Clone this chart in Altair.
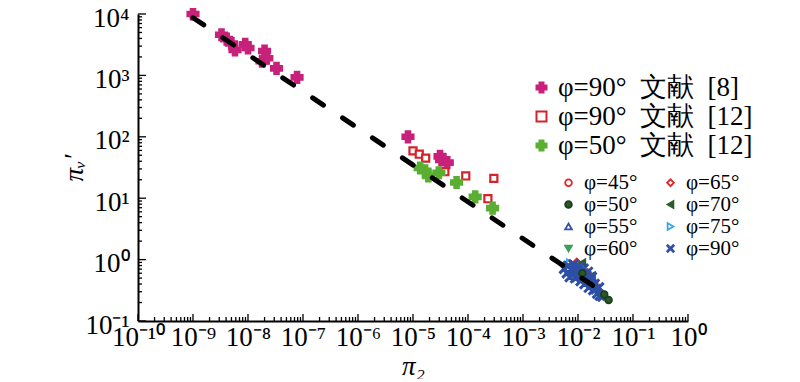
import altair as alt
import pandas as pd

# ---------------- data ----------------
# literature series
lit_names = ["φ=90°\u2002文献\u2002[8]", "φ=90°\u2002文献\u2002[12]", "φ=50°\u2002文献\u2002[12]"]
lit8_x = [1.0e-9, 3.3e-9, 4.1e-9, 5.0e-9, 5.8e-9, 8.9e-9, 1.0e-8, 2.0e-8, 2.2e-8, 1.8e-8,
          3.3e-8, 7.8e-8, 8.1e-6, 3.1e-5, 3.3e-5, 3.5e-5, 4.2e-5]
lit8_y = [1.0e4, 4.6e3, 3.9e3, 3.3e3, 2.6e3, 3.2e3, 2.8e3, 2.5e3, 1.9e3, 1.7e3,
          1.3e3, 9.3e2, 100, 48, 42, 43, 38]
lit12a_x = [1.0e-5, 1.3e-5, 1.7e-5, 3.8e-5, 9.1e-5, 2.95e-4, 2.3e-4]
lit12a_y = [59, 52, 45, 27, 23, 21, 9.8]
lit12b_x = [1.35e-5, 1.66e-5, 1.9e-5, 2.95e-5, 6.2e-5, 1.35e-4, 2.8e-4]
lit12b_y = [31, 28, 23, 26, 18, 10.5, 6.9]

# experimental series
exp_names = ["φ=45°", "φ=50°", "φ=55°", "φ=60°", "φ=65°", "φ=70°", "φ=75°", "φ=90°"]
e45_x = [0.0068, 0.0090, 0.013, 0.020]
e45_y = [0.86, 0.70, 0.55, 0.40]
e50_x = [0.012, 0.030, 0.036]
e50_y = [0.60, 0.27, 0.22]
e55_x = [0.0080, 0.014, 0.020]
e55_y = [0.65, 0.50, 0.38]
e60_x = [0.0095, 0.016]
e60_y = [0.80, 0.45]
e65_x = [0.0095, 0.015]
e65_y = [0.92, 0.62]
e70_x = [0.012, 0.018]
e70_y = [0.89, 0.55]
e75_x = [0.0065, 0.0071]
e75_y = [0.80, 0.89]
e90_x = [0.0056, 0.0063, 0.0066, 0.0071, 0.0079, 0.0083, 0.0089, 0.010, 0.0105, 0.0112,
         0.012, 0.0126, 0.0132, 0.0141, 0.0151, 0.0158, 0.0166, 0.0178, 0.019, 0.020,
         0.021, 0.0224, 0.024, 0.025, 0.028]
e90_y = [0.71, 0.60, 0.79, 0.52, 0.66, 0.83, 0.50, 0.63, 0.76, 0.45,
         0.56, 0.71, 0.40, 0.50, 0.63, 0.35, 0.45, 0.52, 0.32, 0.40,
         0.33, 0.28, 0.35, 0.26, 0.25]

# fitted dashed line (end points)
fit_x = [1.0e-9, 3.5e-2]
fit_y = [8.7e3, 0.26]

# axis ticks
x_major = [10.0 ** e for e in range(-10, 1)]
x_minor = [k * 10.0 ** e for e in range(-10, 0) for k in range(2, 10)]
y_major = [10.0 ** e for e in range(-1, 5)]
y_minor = [k * 10.0 ** e for e in range(-1, 4) for k in range(2, 10)]
x_tick_labels = ["10⁻¹⁰", "10⁻⁹", "10⁻⁸", "10⁻⁷", "10⁻⁶", "10⁻⁵", "10⁻⁴", "10⁻³", "10⁻²", "10⁻¹", "10⁰"]
y_tick_labels = ["10⁻¹", "10⁰", "10¹", "10²", "10³", "10⁴"]

# ---------------- build tables ----------------
lit_rows = []
for name, xs_, ys_ in zip(lit_names, [lit8_x, lit12a_x, lit12b_x], [lit8_y, lit12a_y, lit12b_y]):
    for a, b in zip(xs_, ys_):
        lit_rows.append({"x": a, "y": b, "s": name, "sz": name})
lit_df = pd.DataFrame(lit_rows)

exp_map = {
    "φ=45°": (e45_x, e45_y), "φ=55°": (e55_x, e55_y), "φ=60°": (e60_x, e60_y),
    "φ=65°": (e65_x, e65_y), "φ=70°": (e70_x, e70_y), "φ=75°": (e75_x, e75_y),
    "φ=90°": (e90_x, e90_y), "φ=50°": (e50_x, e50_y),
}
exp_rows = []
for name, (xs_, ys_) in exp_map.items():
    for a, b in zip(xs_, ys_):
        exp_rows.append({"x": a, "y": b, "t": name, "tz": name})
exp_df = pd.DataFrame(exp_rows)

fit_df = pd.DataFrame({"x": fit_x, "y": fit_y})

# ---------------- styling ----------------
W, H = 550, 307
FONT = "Liberation Serif"
LFONT = "Liberation Serif"
xscale = alt.Scale(type="log", domain=[1e-10, 1], nice=False)
yscale = alt.Scale(type="log", domain=[0.1, 1e4], nice=False)

xlab = "[" + ",".join("'%s'" % s for s in x_tick_labels) + "][round(log(datum.value)/LN10)+10]"
ylab = "[" + ",".join("'%s'" % s for s in y_tick_labels) + "][round(log(datum.value)/LN10)+1]"

XSHAPE = "M-0.8,-1L0,-0.2L0.8,-1L1,-0.8L0.2,0L1,0.8L0.8,1L0,0.2L-0.8,1L-1,0.8L-0.2,0L-1,-0.8Z"

lit_shapes = ["cross", "square", "cross"]
lit_stroke = ["#c8217a", "#d4232a", "#5aaf32"]
lit_fill = ["#c8217a", "white", "#5aaf32"]
lit_size = [120, 50, 120]

exp_shape_map = {"φ=45°": "circle", "φ=65°": "diamond", "φ=50°": "circle", "φ=70°": "triangle-left",
                 "φ=55°": "triangle-up", "φ=75°": "triangle-right", "φ=60°": "triangle-down", "φ=90°": XSHAPE}
exp_stroke_map = {"φ=45°": "#e5262b", "φ=65°": "#e0262b", "φ=50°": "#1f3d1f", "φ=70°": "#2c5d2c",
                  "φ=55°": "#2f4fa8", "φ=75°": "#3ea6e0", "φ=60°": "#3aa055", "φ=90°": "#2e4fa6"}
exp_fill_map = {"φ=45°": "white", "φ=65°": "white", "φ=50°": "#2a5a24", "φ=70°": "#2c5d2c",
                "φ=55°": "white", "φ=75°": "white", "φ=60°": "#3aa055", "φ=90°": "#2e4fa6"}
exp_size_map = {"φ=45°": 40, "φ=65°": 45, "φ=50°": 45, "φ=70°": 45,
                "φ=55°": 45, "φ=75°": 45, "φ=60°": 45, "φ=90°": 80}

leg1 = alt.Legend(orient="none", legendX=390, legendY=60, labelFont=LFONT, labelFontSize=27,
                  labelColor="black", symbolSize=100, symbolStrokeWidth=2, rowPadding=1,
                  labelOffset=3, padding=0, labelLimit=400)
leg2 = alt.Legend(orient="none", legendX=420, legendY=158, columns=2, labelFont=LFONT, labelFontSize=21,
                  labelColor="black", symbolSize=45, symbolStrokeWidth=1.8, rowPadding=0,
                  columnPadding=22, labelOffset=5, padding=0, labelLimit=200)

xaxis = alt.Axis(values=x_major, labelExpr=xlab, ticks=False, grid=False, domainColor="black",
                 domainWidth=2, labelFont=FONT, labelFontSize=27, labelColor="black", labelPadding=3,
                 labelFlush=False, labelOverlap=False, title="π₂", titleFont=FONT, titleFontSize=27,
                 titleFontStyle="italic", titleFontWeight="normal", titleColor="black",
                 titleX=W / 2, titleY=53, titleBaseline="alphabetic")
yaxis = alt.Axis(values=y_major, labelExpr=ylab, ticks=False, grid=False, domainColor="black",
                 domainWidth=2, labelFont=FONT, labelFontSize=27, labelColor="black", labelPadding=9,
                 labelOffset=4, labelFlush=False, labelOverlap=False, title="πᵥ′", titleFont=FONT,
                 titleFontSize=27, titleFontStyle="italic", titleFontWeight="normal", titleColor="black",
                 titleX=-56, titleY=H / 2, titleBaseline="alphabetic", titleAngle=270)

# size scales use a reversed domain order so their (disabled) legend is not merged with the shape legend
lit_layer = alt.Chart(lit_df).mark_point(opacity=1, strokeWidth=2.2).encode(
    x=alt.X("x:Q", scale=xscale, axis=xaxis),
    y=alt.Y("y:Q", scale=yscale, axis=yaxis),
    shape=alt.Shape("s:N", title=None, scale=alt.Scale(domain=lit_names, range=lit_shapes), legend=leg1),
    stroke=alt.Stroke("s:N", title=None, scale=alt.Scale(domain=lit_names, range=lit_stroke), legend=leg1),
    fill=alt.Fill("s:N", title=None, scale=alt.Scale(domain=lit_names, range=lit_fill), legend=leg1),
    size=alt.Size("sz:N", scale=alt.Scale(type="ordinal", domain=lit_names[::-1], range=lit_size[::-1]), legend=None),
)

exp_layer = alt.Chart(exp_df).mark_point(opacity=1, strokeWidth=1.8).encode(
    x=alt.X("x:Q", scale=xscale, axis=xaxis),
    y=alt.Y("y:Q", scale=yscale, axis=yaxis),
    shape=alt.Shape("t:N", title=None, scale=alt.Scale(domain=exp_names, range=[exp_shape_map[n] for n in exp_names]), legend=leg2),
    stroke=alt.Stroke("t:N", title=None, scale=alt.Scale(domain=exp_names, range=[exp_stroke_map[n] for n in exp_names]), legend=leg2),
    fill=alt.Fill("t:N", title=None, scale=alt.Scale(domain=exp_names, range=[exp_fill_map[n] for n in exp_names]), legend=leg2),
    size=alt.Size("tz:N", scale=alt.Scale(type="ordinal", domain=exp_names[::-1], range=[exp_size_map[n] for n in exp_names[::-1]]), legend=None),
)

fit_layer = alt.Chart(fit_df).mark_line(color="black", strokeWidth=5, strokeDash=[13, 23], strokeCap="round").encode(
    x=alt.X("x:Q", scale=xscale, axis=xaxis), y=alt.Y("y:Q", scale=yscale, axis=yaxis))

def xticks(vals, length):
    return alt.Chart(pd.DataFrame({"x": vals})).mark_rule(color="black", strokeWidth=1.3).encode(
        x=alt.X("x:Q", scale=xscale, axis=xaxis), y=alt.value(H), y2=alt.value(H - length))

def yticks(vals, length):
    return alt.Chart(pd.DataFrame({"y": vals})).mark_rule(color="black", strokeWidth=1.3).encode(
        y=alt.Y("y:Q", scale=yscale, axis=yaxis), x=alt.value(0), x2=alt.value(length))

chart = alt.layer(
    lit_layer, exp_layer, fit_layer,
    xticks(x_major, 7), xticks(x_minor, 4), yticks(y_major, 8), yticks(y_minor, 4),
).resolve_scale(
    shape="independent", stroke="independent", fill="independent", size="independent"
).resolve_legend(
    shape="independent", stroke="independent", fill="independent", size="independent"
).properties(
    width=W, height=H,
    autosize=alt.AutoSizeParams(type="none"),
    padding={"left": 130, "top": 6, "right": 104, "bottom": 58},
).configure_view(stroke="transparent")

chart.save("out.html", embed_options={"renderer": "svg", "actions": False})
